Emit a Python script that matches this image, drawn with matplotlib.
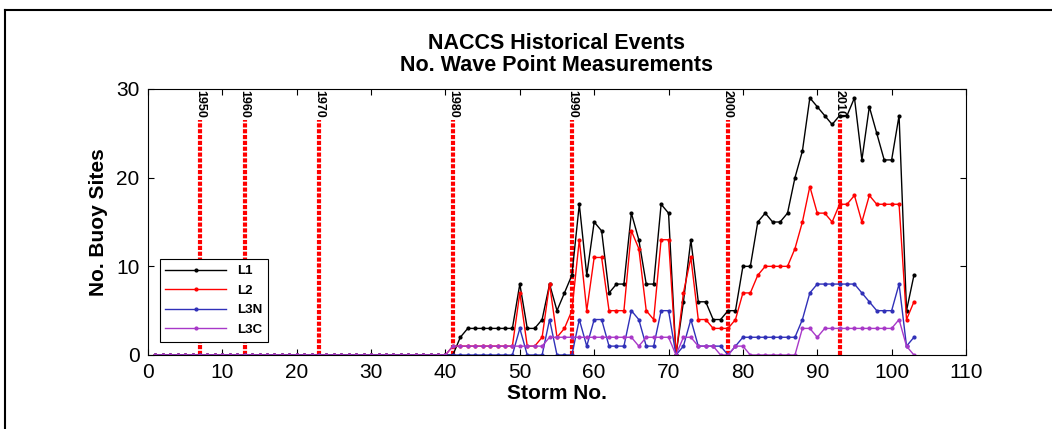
import numpy as np
import matplotlib
matplotlib.use('Agg')
import matplotlib.pyplot as plt
from matplotlib.lines import Line2D

plt.rcParams['font.family'] = ['Liberation Sans Narrow', 'Liberation Sans', 'DejaVu Sans']

# storm numbers 1..103
storms = list(range(1, 104))

# values for storms 41..103 (storms 1..40 are all zero)
l1_tail = [0, 2, 3, 3, 3, 3, 3, 3, 3, 8,      # 41-50
           3, 3, 4, 8, 5, 7, 9, 17, 9, 15,     # 51-60
           14, 7, 8, 8, 16, 13, 8, 8, 17, 16,  # 61-70
           0, 6, 13, 6, 6, 4, 4, 5, 5, 10,     # 71-80
           10, 15, 16, 15, 15, 16, 20, 23, 29, 28,  # 81-90
           27, 26, 27, 27, 29, 22, 28, 25, 22, 22,  # 91-100
           27, 5, 9]                           # 101-103
l2_tail = [1, 1, 1, 1, 1, 1, 1, 1, 1, 7,
           1, 1, 2, 8, 2, 3, 5, 13, 5, 11,
           11, 5, 5, 5, 14, 12, 5, 4, 13, 13,
           0, 7, 11, 4, 4, 3, 3, 3, 4, 7,
           7, 9, 10, 10, 10, 10, 12, 15, 19, 16,
           16, 15, 17, 17, 18, 15, 18, 17, 17, 17,
           17, 4, 6]
l3n_tail = [0, 0, 0, 0, 0, 0, 0, 0, 0, 3,
            0, 0, 0, 4, 0, 0, 0, 4, 1, 4,
            4, 1, 1, 1, 5, 4, 1, 1, 5, 5,
            0, 1, 4, 1, 1, 1, 1, 0, 1, 2,
            2, 2, 2, 2, 2, 2, 2, 4, 7, 8,
            8, 8, 8, 8, 8, 7, 6, 5, 5, 5,
            8, 1, 2]
l3c_tail = [1, 1, 1, 1, 1, 1, 1, 1, 1, 1,
            1, 1, 1, 2, 2, 2, 2, 2, 2, 2,
            2, 2, 2, 2, 2, 1, 2, 2, 2, 2,
            0, 2, 2, 1, 1, 1, 0, 0, 1, 1,
            0, 0, 0, 0, 0, 0, 0, 3, 3, 2,
            3, 3, 3, 3, 3, 3, 3, 3, 3, 3,
            4, 1, 0]

L1 = [0] * 40 + l1_tail
L2 = [0] * 40 + l2_tail
L3N = [0] * 40 + l3n_tail
L3C = [0] * 40 + l3c_tail

# decade markers (storm number where each decade starts)
decade_storm = [7, 13, 23, 41, 57, 78, 93]
decade_label = ['1950', '1960', '1970', '1980', '1990', '2000', '2010']

fig = plt.figure(figsize=(10.52, 4.29), dpi=100)
ax = fig.add_axes([148 / 1052, 1 - 355 / 429, 818 / 1052, 266 / 429])

series = [(L1, 'L1', 'black'), (L2, 'L2', 'red'),
          (L3N, 'L3N', '#3030b8'), (L3C, 'L3C', '#a838c8')]
for vals, name, col in series:
    ax.plot(storms, vals, '-', color=col, marker='.', markersize=4,
            linewidth=1.0, label=name)

for s, lab in zip(decade_storm, decade_label):
    # line stops just below the rotated year label
    ax.axvline(s, ymax=0.885, color='red', linestyle=(0, (1, 0.4)),
               linewidth=3.0, zorder=1)
    ax.text(s, 29.85, lab, rotation=-90, ha='center', va='top',
            fontsize=9, fontweight='bold', color='black', zorder=5)

ax.set_xlim(0, 110)
ax.set_ylim(0, 30)
ax.set_xticks(np.arange(0, 111, 10))
ax.set_yticks([0, 10, 20, 30])
ax.tick_params(direction='in', top=True, right=True, labelsize=15, length=4, pad=6)
ax.set_xlabel('Storm No.', fontsize=15, fontweight='bold', labelpad=1)
ax.set_ylabel('No. Buoy Sites', fontsize=15, fontweight='bold', labelpad=6)
ax.set_title('NACCS Historical Events\nNo. Wave Point Measurements',
             fontsize=15.5, fontweight='bold', pad=13, linespacing=1.05)

leg = ax.legend(loc='lower left', bbox_to_anchor=(0.006, 0.025), fontsize=9.5,
                frameon=True, fancybox=False, edgecolor='black', numpoints=1,
                framealpha=1, handlelength=4.6, borderpad=0.45, labelspacing=0.55)
for t in leg.get_texts():
    t.set_fontweight('bold')
leg.get_frame().set_linewidth(0.8)

# outer panel frame (top and left edges)
fig.add_artist(Line2D([5 / 1052, 1], [1 - 10 / 429, 1 - 10 / 429],
                      transform=fig.transFigure, color='black', linewidth=1.5))
fig.add_artist(Line2D([5 / 1052, 5 / 1052], [0, 1 - 10 / 429],
                      transform=fig.transFigure, color='black', linewidth=1.5))

fig.savefig('out.png', dpi=100)
